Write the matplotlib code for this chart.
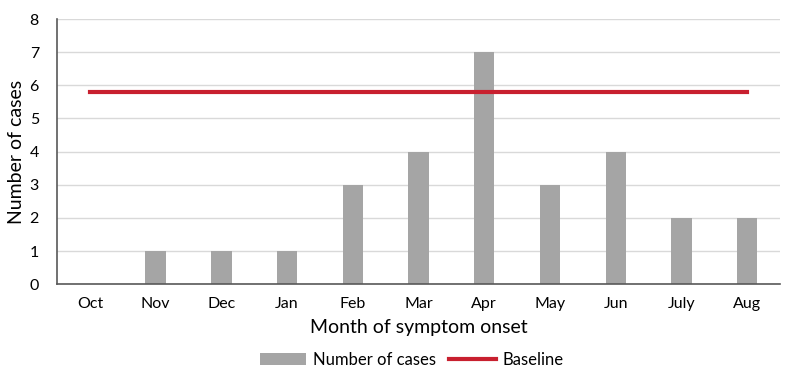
import numpy as np
import matplotlib.pyplot as plt

plt.rcParams['font.family'] = ['Lato', 'DejaVu Sans']

# Data
months = ["Oct", "Nov", "Dec", "Jan", "Feb", "Mar", "Apr", "May", "Jun", "July", "Aug"]
cases = [0, 1, 1, 1, 3, 4, 7, 3, 4, 2, 2]
baseline = [5.8] * len(months)

fig = plt.figure(figsize=(7.92, 3.81), dpi=100)
ax = fig.add_axes([0.072, 0.254, 0.913, 0.696])

x = np.arange(len(months))
bars = ax.bar(x, cases, width=0.31, color="#A5A5A5", label="Number of cases", zorder=2)
line, = ax.plot(x, baseline, color="#C8202F", linewidth=3, label="Baseline", zorder=3)

ax.set_xlim(-0.5, len(months) - 0.5)
ax.set_ylim(0, 8)
ax.set_yticks(range(0, 9))
ax.set_xticks(x)
ax.set_xticklabels(months)
ax.tick_params(axis="both", length=0, labelsize=11.5, pad=9)
ax.tick_params(axis="y", pad=13)
ax.grid(axis="y", color="#D9D9D9", linewidth=1, zorder=0)
ax.set_axisbelow(True)

for side in ["top", "right"]:
    ax.spines[side].set_visible(False)
for side in ["left", "bottom"]:
    ax.spines[side].set_color("#595959")
    ax.spines[side].set_linewidth(1.2)

ax.set_xlabel("Month of symptom onset", fontsize=14, labelpad=6)
ax.set_ylabel("Number of cases", fontsize=14, labelpad=3)

fig.legend(handles=[bars, line], loc="center", bbox_to_anchor=(0.52, 0.055), ncol=2,
           frameon=False, fontsize=12, handlelength=2.8, columnspacing=0.8,
           handletextpad=0.4)

fig.savefig("out.png", dpi=100)
